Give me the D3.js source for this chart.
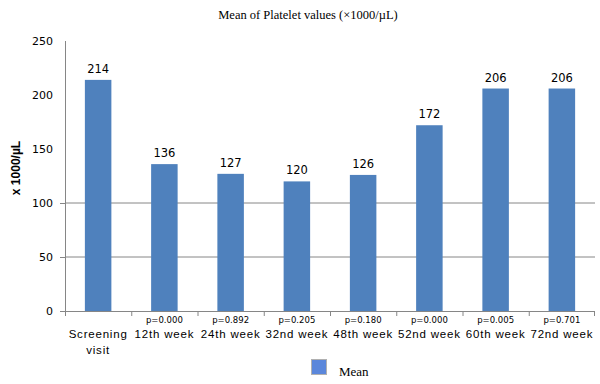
<!DOCTYPE html>
<html>
<head>
<meta charset="utf-8">
<script src="https://cdn.jsdelivr.net/npm/d3@7"></script>
<style>
  body { margin: 0; background: #fff; }
  text { fill: #000; }
  .axis path, .axis line { stroke: #868686; }
  .tick text { font-family: "DejaVu Sans", sans-serif; font-size: 11px; }
</style>
</head>
<body>
<div id="graphic"></div>
<script>
var categories = ["Screening visit", "12th week", "24th week", "32nd week", "48th week", "52nd week", "60th week", "72nd week"];
var means = [214, 136, 127, 120, 126, 172, 206, 206];
var pValues = ["", "p=0.000", "p=0.892", "p=0.205", "p=0.180", "p=0.000", "p=0.005", "p=0.701"];
var yTicks = [0, 50, 100, 150, 200, 250];
var gridValues = [50, 100];

var width = 600, height = 384;
var margin = { top: 41, right: 5, bottom: 73, left: 65 };
var chart_width = width - margin.left - margin.right;
var chart_height = height - margin.top - margin.bottom;

var svg = d3.select("#graphic")
  .append("svg")
  .attr("width", width)
  .attr("height", height);

// Title
svg.append("text")
  .attr("x", 308)
  .attr("y", 19)
  .attr("text-anchor", "middle")
  .style("font-family", "'Liberation Serif', serif")
  .style("font-size", "12.5px")
  .text("Mean of Platelet values (×1000/µL)");

var g = svg.append("g")
  .attr("transform", "translate(" + margin.left + "," + margin.top + ")");

var x = d3.scaleBand().domain(categories).range([0, chart_width]).paddingInner(0.6).paddingOuter(0.3);
var xTickScale = d3.scaleBand().domain(categories).range([0, chart_width]);
var y = d3.scaleLinear().domain([0, 250]).range([chart_height, 0]);

// Gridlines
g.selectAll(".grid")
  .data(gridValues)
  .enter()
  .append("line")
  .attr("x1", 0)
  .attr("x2", chart_width)
  .attr("y1", d => y(d))
  .attr("y2", d => y(d))
  .attr("stroke", "#868686");

// Y axis
var yAxis = g.append("g")
  .attr("class", "axis")
  .call(d3.axisLeft(y).tickValues(yTicks).tickSize(0).tickPadding(12));
yAxis.select(".domain").attr("d", "M0.5," + y(250) + "V" + chart_height);
yAxis.selectAll(".tick")
  .filter(d => d <= 100)
  .append("line")
  .attr("x1", -5).attr("x2", 0)
  .attr("stroke", "#868686");

// Bars
g.selectAll(".bar")
  .data(means)
  .enter()
  .append("rect")
  .attr("class", "bar")
  .attr("x", (d, i) => x(categories[i]))
  .attr("y", d => y(d))
  .attr("width", x.bandwidth())
  .attr("height", d => chart_height - y(d))
  .attr("fill", "#4F81BD");

// Value labels
g.selectAll(".val")
  .data(means)
  .enter()
  .append("text")
  .attr("x", (d, i) => x(categories[i]) + x.bandwidth() / 2)
  .attr("y", d => y(d) - 7)
  .attr("text-anchor", "middle")
  .style("font-family", "'DejaVu Sans', sans-serif")
  .style("font-size", "11.5px")
  .text(d => d);

// X axis baseline and ticks
g.append("line")
  .attr("x1", -5).attr("x2", chart_width)
  .attr("y1", chart_height + 0.5).attr("y2", chart_height + 0.5)
  .attr("stroke", "#868686");
g.selectAll(".xtick")
  .data(categories.concat(["end"]))
  .enter()
  .append("line")
  .attr("x1", (d, i) => i < categories.length ? xTickScale(d) + 0.5 : chart_width - 0.5)
  .attr("x2", (d, i) => i < categories.length ? xTickScale(d) + 0.5 : chart_width - 0.5)
  .attr("y1", chart_height)
  .attr("y2", chart_height + 5)
  .attr("stroke", "#868686");

// p-values
g.selectAll(".pval")
  .data(pValues)
  .enter()
  .append("text")
  .attr("x", (d, i) => x(categories[i]) + x.bandwidth() / 2)
  .attr("y", chart_height + 12)
  .attr("text-anchor", "middle")
  .style("font-family", "'DejaVu Sans', sans-serif")
  .style("font-size", "8.5px")
  .text(d => d);

// Category labels
g.selectAll(".cat")
  .data(categories)
  .enter()
  .append("text")
  .attr("x", (d, i) => x(d) + x.bandwidth() / 2)
  .attr("y", chart_height + 27)
  .attr("text-anchor", "middle")
  .style("font-family", "'Liberation Sans', Arial, sans-serif")
  .style("font-size", "11.5px")
  .style("letter-spacing", "0.8px")
  .each(function (d) {
    var words = d === "Screening visit" ? ["Screening", "visit"] : [d];
    var t = d3.select(this);
    words.forEach((w, k) => {
      t.append("tspan")
        .attr("x", t.attr("x"))
        .attr("dy", k === 0 ? 0 : 16)
        .text(w);
    });
  });

// Y axis label
svg.append("text")
  .attr("transform", "translate(20," + 168 + ") rotate(-90)")
  .attr("text-anchor", "middle")
  .style("font-family", "'Liberation Sans', Arial, sans-serif")
  .style("font-size", "12px")
  .style("font-weight", "bold")
  .text("x 1000/µL");

// Legend
svg.append("rect")
  .attr("x", 311.5).attr("y", 359.5)
  .attr("width", 15).attr("height", 15)
  .attr("fill", "#5B87DB")
  .attr("stroke", "#B0B0B0");
svg.append("text")
  .attr("x", 339)
  .attr("y", 376)
  .style("font-family", "'Liberation Serif', serif")
  .style("font-size", "13px")
  .text("Mean");
</script>
</body>
</html>
